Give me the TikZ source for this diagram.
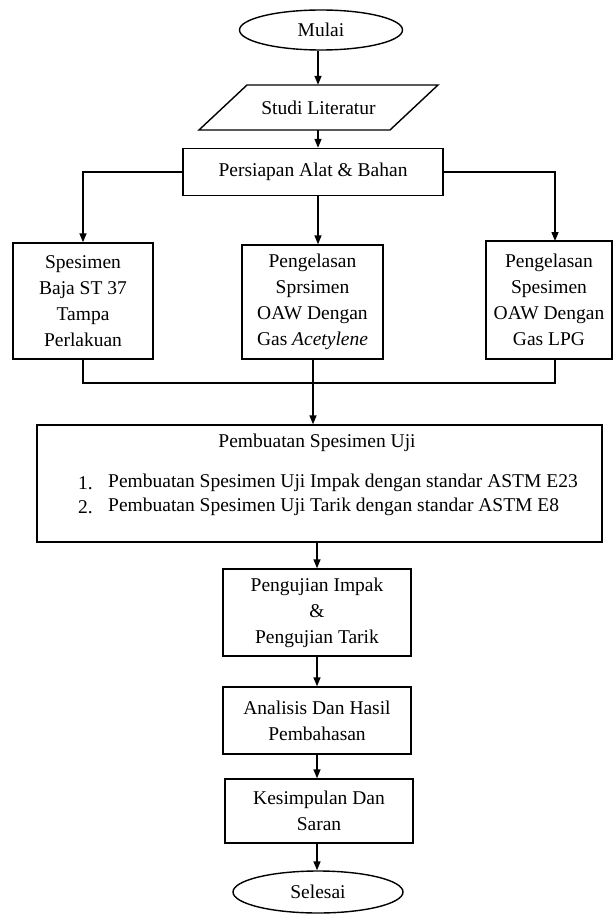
\documentclass[tikz,border=0pt]{standalone}
\usepackage{fontspec}
\setmainfont{Liberation Serif}
\usetikzlibrary{arrows.meta,shapes.geometric,calc}
\begin{document}
\begin{tikzpicture}[x=1pt,y=-1pt,
  every node/.style={font=\fontsize{19.5pt}{26pt}\selectfont, inner sep=0pt},
  box/.style={draw, line width=1.4pt, align=center},
  term/.style={draw, ellipse, line width=1.4pt},
  arr/.style={line width=1.4pt, -{Triangle[length=9pt,width=7pt]}},
  ln/.style={line width=1.4pt}]
\useasboundingbox (0,0) rectangle (615,915);
\coordinate (axis) at (318,0);
\coordinate (axisb) at (317,0);
\coordinate (axism) at (313,0);

\node[term, minimum width=163pt, minimum height=40pt] (mulai) at (321,30) {Mulai};

\draw[ln] (199,130) -- (247,85) -- (438,85) -- (390,130) -- cycle;
\node[minimum width=190pt, minimum height=45pt] (studi) at (318.5,107.5) {Studi Literatur};

\node[box, minimum width=260pt, minimum height=47pt] (persiapan) at (313,172) {Persiapan Alat \& Bahan};

\node[box, minimum width=140pt, minimum height=116pt] (b1) at (83,301) {Spesimen\\Baja ST 37\\Tampa\\Perlakuan};
\node[box, minimum width=141pt, minimum height=114pt] (b2) at (312.5,302) {Pengelasan\\Sprsimen\\OAW Dengan\\Gas \textit{Acetylene}};
\node[box, minimum width=126pt, minimum height=118pt] (b3) at (549,300) {Pengelasan\\Spesimen\\OAW Dengan\\Gas LPG};
\coordinate (b3in) at (555,241);
\coordinate (b3out) at (555,359);

\node[box, minimum width=565pt, minimum height=117pt] (uji) at (319.5,483.5) {};
\node (ujititle) at (317,443) {Pembuatan Spesimen Uji};
\node[anchor=west] (n1) at (78,483) {1.};
\node[anchor=west] (i1) at (108,483) {Pembuatan Spesimen Uji Impak dengan standar ASTM E23};
\node[anchor=west] (n2) at (78,507) {2.};
\node[anchor=west] (i2) at (108,507) {Pembuatan Spesimen Uji Tarik dengan standar ASTM E8};

\node[box, minimum width=188pt, minimum height=87pt] (uji2) at (317,612.5) {Pengujian Impak\\\&\\Pengujian Tarik};
\node[box, minimum width=188pt, minimum height=67pt] (analisis) at (317,720.5) {Analisis Dan Hasil\\Pembahasan};
\node[box, minimum width=188pt, minimum height=64pt] (kes) at (319,811) {Kesimpulan Dan\\Saran};
\node[term, minimum width=170pt, minimum height=42pt] (selesai) at (318,892) {Selesai};

% connectors
\draw[arr] (axis |- mulai.south) -- (axis |- studi.north);
\draw[arr] (axis |- studi.south) -- (axis |- persiapan.north);
\draw[arr] (persiapan.west) -| (b1.north);
\draw[arr] (persiapan.east) -| (b3in);
\draw[arr] (axis |- persiapan.south) -- (axis |- b2.north);
\draw[ln] (b1.south) |- (b3out |- 0,383) -- (b3out);
\draw[arr] (axism |- b2.south) -- (axism |- uji.north);
\draw[arr] (axisb |- uji.south) -- (axisb |- uji2.north);
\draw[arr] (axisb |- uji2.south) -- (axisb |- analisis.north);
\draw[arr] (axisb |- analisis.south) -- (axisb |- kes.north);
\draw[arr] (axisb |- kes.south) -- (axisb |- selesai.north);
\end{tikzpicture}
\end{document}
